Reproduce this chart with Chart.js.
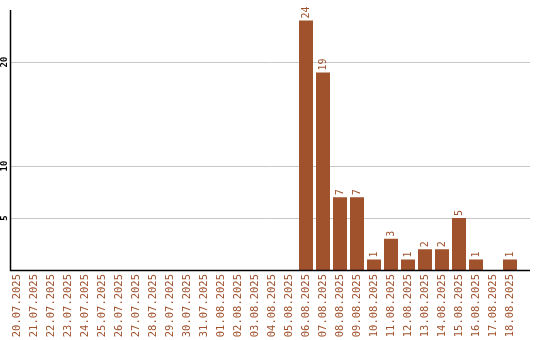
<!DOCTYPE html>
<html>
<head>
<meta charset="utf-8">
<script src="https://cdn.jsdelivr.net/npm/chart.js@4.4.1/dist/chart.umd.min.js"></script>
<style>
html,body{margin:0;padding:0;background:#fff;}
#wrap{width:540px;height:340px;position:relative;}
</style>
</head>
<body>
<div id="wrap"><canvas id="c" width="540" height="340"></canvas></div>
<script>
const categories = ["20.07.2025","21.07.2025","22.07.2025","23.07.2025","24.07.2025","25.07.2025","26.07.2025","27.07.2025","28.07.2025","29.07.2025","30.07.2025","31.07.2025","01.08.2025","02.08.2025","03.08.2025","04.08.2025","05.08.2025","06.08.2025","07.08.2025","08.08.2025","09.08.2025","10.08.2025","11.08.2025","12.08.2025","13.08.2025","14.08.2025","15.08.2025","16.08.2025","17.08.2025","18.08.2025"];
const counts = [0,0,0,0,0,0,0,0,0,0,0,0,0,0,0,0,0,24,19,7,7,1,3,1,2,2,5,1,0,1];
const yTicks = [5,10,20];
const yMax = 25;

const SIENNA = '#A0522D';

const decor = {
  id: 'decor',
  beforeDatasetsDraw(chart) {
    const ctx = chart.ctx, y = chart.scales.y;
    ctx.save();
    ctx.strokeStyle = '#c8c8c8';
    ctx.lineWidth = 1;
    y.ticks.forEach(t => {
      const py = Math.round(y.getPixelForValue(t.value)) + 0.5;
      ctx.beginPath(); ctx.moveTo(11, py); ctx.lineTo(530, py); ctx.stroke();
    });
    ctx.restore();
  },
  afterDatasetsDraw(chart) {
    const ctx = chart.ctx, y = chart.scales.y;
    ctx.save();
    // axes
    ctx.strokeStyle = '#000';
    ctx.lineWidth = 1.5;
    const by = y.getPixelForValue(0) + 0.5;
    ctx.beginPath(); ctx.moveTo(10.5, y.getPixelForValue(yMax)); ctx.lineTo(10.5, by); ctx.lineTo(530, by); ctx.stroke();
    // y tick labels
    ctx.fillStyle = '#000';
    ctx.font = 'bold 9px "DejaVu Sans Mono", monospace';
    ctx.textAlign = 'center';
    ctx.textBaseline = 'middle';
    y.ticks.forEach(t => {
      const py = y.getPixelForValue(t.value);
      ctx.save(); ctx.translate(4.5, py); ctx.rotate(-Math.PI/2);
      ctx.fillText(String(t.value), 0, 0); ctx.restore();
    });
    // value labels
    ctx.fillStyle = SIENNA;
    ctx.font = '10px "DejaVu Sans Mono", monospace';
    ctx.textAlign = 'left';
    const meta = chart.getDatasetMeta(0);
    meta.data.forEach((bar, i) => {
      const v = counts[i];
      if (!v) return;
      ctx.save(); ctx.translate(bar.x, bar.y - 2); ctx.rotate(-Math.PI/2);
      ctx.fillText(String(v), 0, 0.5); ctx.restore();
    });
    ctx.restore();
  }
};

new Chart(document.getElementById('c'), {
  type: 'bar',
  data: {
    labels: categories,
    datasets: [{
      data: counts,
      backgroundColor: SIENNA,
      borderWidth: 0,
      barPercentage: 1,
      categoryPercentage: 14/17
    }]
  },
  options: {
    responsive: false,
    animation: false,
    devicePixelRatio: 1,
    layout: { padding: { top: 10, right: 21.5, left: 0, bottom: 0 } },
    plugins: { legend: { display: false }, tooltip: { enabled: false } },
    scales: {
      x: {
        grid: { display: false, drawTicks: false },
        border: { display: false },
        ticks: {
          color: SIENNA,
          font: { family: '"DejaVu Sans Mono", monospace', size: 10.5 },
          minRotation: 90, maxRotation: 90, autoSkip: false, padding: 4
        },
        afterFit(s) { s.height = 70; }
      },
      y: {
        min: 0, max: yMax,
        grid: { display: false, drawTicks: false },
        border: { display: false },
        ticks: { display: false },
        afterBuildTicks(s) { s.ticks = yTicks.map(v => ({ value: v })); },
        afterFit(s) { s.width = 8.5; }
      }
    }
  },
  plugins: [decor]
});
</script>
</body>
</html>
